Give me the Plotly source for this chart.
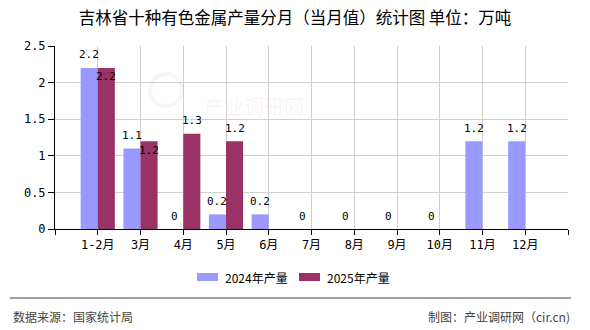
import plotly.graph_objects as go

# Monthly output of ten non-ferrous metals in Jilin (10k tonnes)
months = ["1-2月", "3月", "4月", "5月", "6月", "7月", "8月", "9月", "10月", "11月", "12月"]
output_2024 = [2.2, 1.1, 0, 0.2, 0.2, 0, 0, 0, 0, 1.2, 1.2]
output_2025 = [2.2, 1.2, 1.3, 1.2, None, None, None, None, None, None, None]
series_names = ["2024年产量", "2025年产量"]
y_ticks = [0, 0.5, 1, 1.5, 2, 2.5]

COLOR_2024 = "#9999FF"
COLOR_2025 = "#993366"
NUM_FONT = "DejaVu Sans Mono, Noto Sans CJK SC"
CJK_FONT = "Noto Sans CJK SC, Noto Sans, sans-serif"

W, H = 590, 330
L, R, T, B = 55, 22, 46, 101
PW, PH = W - L - R, H - T - B
Y_MAX = 2.5


def px(x):
    return (x - L) / PW


def py(y):
    return (H - B - y) / PH


idx = list(range(len(months)))

fig = go.Figure()
fig.add_trace(go.Bar(x=idx, y=output_2024, name=series_names[0],
                     marker=dict(color=COLOR_2024, line=dict(width=0))))
fig.add_trace(go.Bar(x=idx, y=output_2025, name=series_names[1],
                     marker=dict(color=COLOR_2025, line=dict(width=0))))

annotations = []
px_per_unit = PH / Y_MAX
for i, (a, b) in enumerate(zip(output_2024, output_2025)):
    if a is not None:
        annotations.append(dict(x=i - 0.2, y=a, xref="x", yref="y", text=f"{a:g}",
                                showarrow=False, yshift=13,
                                font=dict(family=NUM_FONT, size=11, color="#000")))
    if b is not None:
        shift = 13
        # drop the label inside the bar top when it would collide with its neighbour
        if a is not None and abs(b - a) * px_per_unit < 14:
            shift = -9
        annotations.append(dict(x=i + 0.2, y=b, xref="x", yref="y", text=f"{b:g}",
                                showarrow=False, yshift=shift,
                                font=dict(family=NUM_FONT, size=11, color="#000")))

# faint site watermark
shapes = [dict(type="circle", xref="paper", yref="paper",
               x0=px(150), x1=px(182), y0=py(106), y1=py(74),
               line=dict(color="rgba(190,70,70,0.06)", width=4))]
annotations.append(dict(x=px(254), y=py(90), xref="paper", yref="paper", text="产业调研网",
                        showarrow=False, font=dict(family=CJK_FONT, size=20,
                                                   color="rgba(190,70,70,0.07)")))

# legend drawn by hand below the axis
legend = [(197, 223, COLOR_2024, series_names[0]), (299, 325, COLOR_2025, series_names[1])]
for sx, tx, col, name in legend:
    shapes.append(dict(type="rect", xref="paper", yref="paper",
                       x0=px(sx), x1=px(sx + 21), y0=py(281), y1=py(273),
                       fillcolor=col, line=dict(width=0)))
    annotations.append(dict(x=px(tx), y=py(277), xref="paper", yref="paper", text=name,
                            xanchor="left", yanchor="middle", showarrow=False,
                            font=dict(family=CJK_FONT, size=12, color="#000")))

# footer rule and credits
shapes.append(dict(type="line", xref="paper", yref="paper", x0=px(10), x1=px(571),
                   y0=py(298), y1=py(298), line=dict(color="#808080", width=1.5)))
annotations.append(dict(x=px(11), y=py(316), xref="paper", yref="paper",
                        text="数据来源：国家统计局", xanchor="left", yanchor="middle",
                        showarrow=False, font=dict(family=CJK_FONT, size=12, color="#444")))
annotations.append(dict(x=px(572), y=py(316), xref="paper", yref="paper",
                        text="制图：产业调研网（cir.cn)", xanchor="right", yanchor="middle",
                        showarrow=False, font=dict(family=CJK_FONT, size=12, color="#444")))

fig.update_layout(
    width=W, height=H,
    margin=dict(l=L, r=R, t=T, b=B),
    paper_bgcolor="white", plot_bgcolor="white",
    barmode="group", bargap=0.2, bargroupgap=0,
    showlegend=False,
    title=dict(text="吉林省十种有色金属产量分月（当月值）统计图 单位：万吨",
               x=0.5, xref="container", xanchor="center",
               y=1 - 18 / H, yref="container", yanchor="middle",
               font=dict(family=CJK_FONT, size=16.5, color="#000")),
    xaxis=dict(range=[-1, len(months)],
               tickmode="array",
               tickvals=[-1] + idx + [len(months)],
               ticktext=[""] + months + [""],
               showgrid=True, gridcolor="#D0D0D0", gridwidth=1,
               showline=True, linecolor="#000", linewidth=1,
               ticks="outside", ticklen=5, tickcolor="#000",
               tickfont=dict(family=NUM_FONT, size=12, color="#000"),
               zeroline=False, fixedrange=True),
    yaxis=dict(range=[0, Y_MAX], tickvals=y_ticks,
               ticktext=[f"{v:g}" for v in y_ticks],
               showgrid=True, gridcolor="#D0D0D0", gridwidth=1,
               showline=True, linecolor="#000", linewidth=1,
               ticks="outside", ticklen=6, tickcolor="#000",
               tickfont=dict(family=NUM_FONT, size=12, color="#000"),
               zeroline=False, fixedrange=True),
    annotations=annotations,
    shapes=shapes,
)

fig.write_html("out.html")
